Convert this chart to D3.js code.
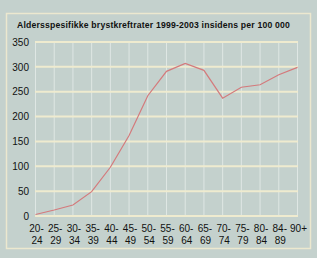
<!DOCTYPE html>
<html>
<head>
<meta charset="utf-8">
<script src="https://cdn.jsdelivr.net/npm/d3@7"></script>
<style>
  body { margin: 0; background: #c4d1cd; }
  svg { display: block; }
  text { font-family: "Liberation Sans", Arial, sans-serif; fill: #111; }
</style>
</head>
<body>
<svg id="chart" width="317" height="258"></svg>
<script>
// Age groups (two-line labels)
const ageTop = ['20-', '25-', '30-', '35-', '40-', '45-', '50-', '55-', '60-', '65-', '70-', '75-', '80-', '84-', '90+'];
const ageBottom = ['24', '29', '34', '39', '44', '49', '54', '59', '64', '69', '74', '79', '84', '89', ''];
// Incidence per 100 000
const rates = [3, 12, 22, 49, 98, 162, 242, 291, 307, 293, 237, 259, 264, 284, 299];
const yTicks = [0, 50, 100, 150, 200, 250, 300, 350];
const title = 'Aldersspesifikke brystkreftrater 1999-2003 insidens per 100 000';

const margin = { top: 42, right: 20, bottom: 42, left: 35 };
const W = 317, H = 258;
const width = W - margin.left - margin.right;   // 262
const height = H - margin.top - margin.bottom;  // 174

const svg = d3.select('#chart');

// panel border
svg.append('rect')
    .attr('x', 6.5).attr('y', 13.5)
    .attr('width', 304).attr('height', 235)
    .attr('fill', 'none')
    .attr('stroke', '#ece8cf')
    .attr('stroke-width', 1.5);

const t = svg.append('text')
    .attr('x', 17).attr('y', 28)
    .attr('font-size', 9.5)
    .attr('font-weight', 'bold')
    .attr('letter-spacing', 0.2)
    .text(title);
// squeeze only if it runs wider than the reference title
if (t.node().getComputedTextLength() > 274) {
    t.attr('textLength', 273).attr('lengthAdjust', 'spacingAndGlyphs');
}

const g = svg.append('g')
    .attr('transform', `translate(${margin.left},${margin.top})`);

const x = d3.scalePoint()
    .domain(d3.range(ageTop.length))
    .range([0, width]);

const y = d3.scaleLinear()
    .domain([0, 350])
    .range([height, 0]);

// vertical grid
g.append('g').selectAll('line')
    .data(x.domain())
    .join('line')
    .attr('x1', d => x(d) + 0.5).attr('x2', d => x(d) + 0.5)
    .attr('y1', 0).attr('y2', height)
    .attr('stroke', '#dfe7e4')
    .attr('stroke-width', 1);

// horizontal grid
g.append('g').selectAll('line')
    .data(yTicks)
    .join('line')
    .attr('x1', 0).attr('x2', width + 1)
    .attr('y1', d => y(d)).attr('y2', d => y(d))
    .attr('stroke', '#efebcf')
    .attr('stroke-width', 2);

// y axis labels
const yAxis = g.append('g')
    .call(d3.axisLeft(y).tickValues(yTicks).tickSize(0).tickPadding(6));
yAxis.select('.domain').remove();
yAxis.selectAll('text')
    .attr('font-size', 10)
    .attr('font-family', '"Liberation Sans", Arial, sans-serif')
    .attr('fill', '#111');

// x axis labels
const xl = g.append('g').attr('transform', `translate(0,${height})`);
xl.selectAll('text.top')
    .data(ageTop)
    .join('text')
    .attr('class', 'top')
    .attr('x', (d, i) => x(i) + 1.5)
    .attr('y', 16)
    .attr('text-anchor', 'middle')
    .attr('font-size', 10)
    .text(d => d);
xl.selectAll('text.bot')
    .data(ageBottom)
    .join('text')
    .attr('class', 'bot')
    .attr('x', (d, i) => x(i) - 3.5)
    .attr('y', 28)
    .attr('font-size', 10)
    .text(d => d);

// line
const line = d3.line()
    .x((d, i) => x(i) + 0.5)
    .y(d => y(d));

g.append('path')
    .datum(rates)
    .attr('d', line)
    .attr('fill', 'none')
    .attr('stroke', '#d47a7c')
    .attr('stroke-width', 1.2);
</script>
</body>
</html>
